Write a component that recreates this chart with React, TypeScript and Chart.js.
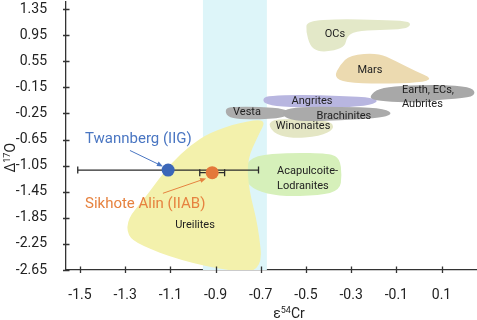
import React, { useEffect, useRef } from 'react';
import { Chart, registerables } from 'chart.js';

Chart.register(...registerables);

// ---- axes ----
const xTicks = [-1.5, -1.3, -1.1, -0.9, -0.7, -0.5, -0.3, -0.1, 0.1];
const xTickLabels = ['-1.5', '-1.3', '-1.1', '-0.9', '-0.7', '-0.5', '-0.3', '-0.1', '0.1'];
// y axis: evenly spaced tick positions (index 0..10) carrying these labels
const yTickLabels = ['-2.65', '-2.25', '-1.85', '-1.45', '-1.05', '-0.65', '-0.25', '-0.15', '0.55', '0.95', '1.35'];

// ---- meteorite points (x = ε54Cr, y = Δ17O axis position) ----
const twannberg = { x: -1.11, y: 3.83, err: 0.4 };
const sikhoteAlin = { x: -0.915, y: 3.73, err: 0.055 };

// ---- vertical band (ε54Cr range) ----
const bandRange = [-0.956, -0.673];

// ---- field outlines [ε54Cr, Δ17O axis position] ----
const ureilites: [number, number][] = [
  [-0.673, 5.8], [-0.792, 5.65], [-0.925, 5.27], [-1.013, 4.77], [-1.093, 4.12], [-1.155, 3.44],
  [-1.221, 2.67], [-1.288, 1.98], [-1.292, 1.34], [-1.235, 0.95], [-1.058, 0.38], [-0.836, -0.05],
  [-0.69, -0.05], [-0.712, 1.72], [-0.752, 3.05], [-0.761, 4.2], [-0.712, 5.15],
];
const acapulcoites: [number, number][] = [
  [-0.77, 4.01], [-0.726, 4.39], [-0.571, 4.5], [-0.394, 4.47], [-0.35, 4.27], [-0.341, 3.63],
  [-0.35, 3.05], [-0.438, 2.86], [-0.615, 2.82], [-0.726, 3.05], [-0.77, 3.44],
];
const winonaites: [number, number][] = [
  [-0.668, 5.73], [-0.571, 5.8], [-0.394, 5.73], [-0.372, 5.42], [-0.438, 5.11], [-0.571, 5.04], [-0.65, 5.27],
];
const ocs: [number, number][] = [
  [-0.496, 9.54], [-0.35, 9.62], [-0.173, 9.58], [-0.049, 9.54], [-0.035, 9.39], [-0.062, 9.24],
  [-0.173, 9.2], [-0.283, 9.16], [-0.319, 8.93], [-0.327, 8.59], [-0.372, 8.4], [-0.447, 8.36],
  [-0.482, 8.59], [-0.5, 9.16],
];
const mars: [number, number][] = [
  [-0.376, 7.4], [-0.35, 7.86], [-0.305, 8.24], [-0.181, 8.32], [-0.106, 8.02], [-0.018, 7.63],
  [0.062, 7.33], [0.004, 7.18], [-0.173, 7.14], [-0.327, 7.18],
];
const angrites: [number, number][] = [
  [-0.69, 6.6], [-0.659, 6.68], [-0.527, 6.72], [-0.35, 6.68], [-0.195, 6.6], [-0.181, 6.41],
  [-0.261, 6.26], [-0.438, 6.22], [-0.615, 6.26], [-0.686, 6.37],
];
const vesta: [number, number][] = [
  [-0.858, 6.18], [-0.827, 6.26], [-0.704, 6.26], [-0.593, 6.18], [-0.571, 5.99], [-0.615, 5.8],
  [-0.792, 5.76], [-0.85, 5.88],
];
const brachinites: [number, number][] = [
  [-0.606, 6.11], [-0.527, 6.26], [-0.35, 6.26], [-0.173, 6.22], [-0.115, 6.03], [-0.15, 5.84],
  [-0.35, 5.73], [-0.527, 5.69], [-0.597, 5.84],
];
const earth: [number, number][] = [
  [-0.217, 6.68], [-0.181, 6.95], [-0.084, 7.06], [0.093, 7.1], [0.226, 7.02], [0.252, 6.79],
  [0.226, 6.6], [0.093, 6.53], [0.004, 6.41], [-0.128, 6.45], [-0.208, 6.53],
];

// ---- field labels [text, x, y, align] ----
const fieldLabels: [string, number, number, CanvasTextAlign][] = [
  ['OCs', -0.372, 9.05, 'center'],
  ['Mars', -0.217, 7.67, 'center'],
  ['Earth, ECs,', -0.075, 6.87, 'left'],
  ['Aubrites', -0.075, 6.37, 'left'],
  ['Angrites', -0.473, 6.45, 'center'],
  ['Vesta', -0.761, 6.03, 'center'],
  ['Brachinites', -0.332, 5.88, 'center'],
  ['Winonaites', -0.513, 5.5, 'center'],
  ['Acapulcoite-', -0.628, 3.78, 'left'],
  ['Lodranites', -0.628, 3.21, 'left'],
  ['Ureilites', -0.991, 1.72, 'center'],
];

// ---- callouts ----
const twannbergLabel = { text: 'Twannberg (IIG)', x: -1.478, y: 5.0 };
const sikhoteLabel = { text: 'Sikhote Alin (IIAB)', x: -1.478, y: 2.52 };
const twannbergArrow = [[-1.279, 4.58], [-1.133, 3.97]];
const sikhoteArrow = [[-1.133, 2.94], [-0.942, 3.51]];

const BLUE = '#3b66b8';
const ORANGE = '#e4783a';
const BLUE_TEXT = '#4a76c2';
const ORANGE_TEXT = '#e6823f';

function smoothClosed(ctx: CanvasRenderingContext2D, pts: number[][]) {
  const n = pts.length;
  const mid = (a: number[], b: number[]) => [(a[0] + b[0]) / 2, (a[1] + b[1]) / 2];
  const m0 = mid(pts[n - 1], pts[0]);
  ctx.beginPath();
  ctx.moveTo(m0[0], m0[1]);
  for (let i = 0; i < n; i++) {
    const p = pts[i];
    const m = mid(p, pts[(i + 1) % n]);
    ctx.quadraticCurveTo(p[0], p[1], m[0], m[1]);
  }
  ctx.closePath();
}

const fields: [([number, number][]), string][] = [
  [acapulcoites, 'rgba(214,240,186,1)'],
  [ureilites, 'rgba(243,241,172,1)'],
  [winonaites, 'rgba(228,230,196,1)'],
  [ocs, 'rgba(227,232,200,1)'],
  [mars, 'rgba(236,218,176,1)'],
  [angrites, 'rgba(184,182,224,1)'],
  [vesta, 'rgba(172,172,172,1)'],
  [brachinites, 'rgba(170,170,170,1)'],
  [earth, 'rgba(168,168,168,1)'],
];

const drawPlugin = {
  id: 'custom',
  beforeDatasetsDraw(chart: any) {
    const { ctx, chartArea, scales } = chart;
    const xs = scales.x, ys = scales.y;
    ctx.save();
    // band
    const bx0 = xs.getPixelForValue(bandRange[0]);
    const bx1 = xs.getPixelForValue(bandRange[1]);
    ctx.fillStyle = '#ddf5f9';
    ctx.fillRect(bx0, 0, bx1 - bx0, chartArea.bottom);
    // fields
    ctx.beginPath();
    ctx.rect(chartArea.left, 0, chartArea.right - chartArea.left, chartArea.bottom);
    ctx.clip();
    for (const [pts, col] of fields) {
      const px = pts.map(([x, y]) => [xs.getPixelForValue(x), ys.getPixelForValue(y)]);
      smoothClosed(ctx, px);
      ctx.fillStyle = col;
      ctx.fill();
    }
    ctx.restore();
    // field labels
    ctx.save();
    ctx.font = '11px Roboto';
    ctx.fillStyle = '#222';
    ctx.textBaseline = 'middle';
    for (const [t, x, y, al] of fieldLabels) {
      ctx.textAlign = al;
      ctx.fillText(t, xs.getPixelForValue(x), ys.getPixelForValue(y));
    }
    // error bars
    ctx.strokeStyle = '#2a2a2a';
    ctx.lineWidth = 1.3;
    for (const p of [twannberg, sikhoteAlin]) {
      const x0 = xs.getPixelForValue(p.x - p.err);
      const x1 = xs.getPixelForValue(p.x + p.err);
      const y = ys.getPixelForValue(p.y);
      ctx.beginPath();
      ctx.moveTo(x0, y); ctx.lineTo(x1, y);
      ctx.moveTo(x0, y - 3.5); ctx.lineTo(x0, y + 3.5);
      ctx.moveTo(x1, y - 3.5); ctx.lineTo(x1, y + 3.5);
      ctx.stroke();
    }
    ctx.restore();
  },
  afterDatasetsDraw(chart: any) {
    const { ctx, scales } = chart;
    const xs = scales.x, ys = scales.y;
    ctx.save();
    ctx.font = '15px Roboto';
    ctx.textAlign = 'left';
    ctx.textBaseline = 'middle';
    ctx.fillStyle = BLUE_TEXT;
    ctx.fillText(twannbergLabel.text, xs.getPixelForValue(twannbergLabel.x), ys.getPixelForValue(twannbergLabel.y));
    ctx.fillStyle = ORANGE_TEXT;
    ctx.fillText(sikhoteLabel.text, xs.getPixelForValue(sikhoteLabel.x), ys.getPixelForValue(sikhoteLabel.y));
    const arrow = (a: number[][], col: string) => {
      const x0 = xs.getPixelForValue(a[0][0]), y0 = ys.getPixelForValue(a[0][1]);
      const x1 = xs.getPixelForValue(a[1][0]), y1 = ys.getPixelForValue(a[1][1]);
      const ang = Math.atan2(y1 - y0, x1 - x0);
      ctx.strokeStyle = col; ctx.fillStyle = col; ctx.lineWidth = 1;
      ctx.beginPath(); ctx.moveTo(x0, y0); ctx.lineTo(x1 - 4 * Math.cos(ang), y1 - 4 * Math.sin(ang)); ctx.stroke();
      ctx.beginPath();
      ctx.moveTo(x1, y1);
      ctx.lineTo(x1 - 6 * Math.cos(ang) + 2.5 * Math.sin(ang), y1 - 6 * Math.sin(ang) - 2.5 * Math.cos(ang));
      ctx.lineTo(x1 - 6 * Math.cos(ang) - 2.5 * Math.sin(ang), y1 - 6 * Math.sin(ang) + 2.5 * Math.cos(ang));
      ctx.closePath(); ctx.fill();
    };
    arrow(twannbergArrow, BLUE_TEXT);
    arrow(sikhoteArrow, ORANGE_TEXT);
    ctx.restore();
  },
  afterDraw(chart: any) {
    const { ctx, chartArea, scales } = chart;
    const xs = scales.x, ys = scales.y;
    ctx.save();
    ctx.strokeStyle = '#333';
    ctx.lineWidth = 1.3;
    ctx.beginPath();
    for (const v of xTicks) {
      const x = Math.round(xs.getPixelForValue(v)) + 0.5;
      ctx.moveTo(x, chartArea.bottom - 3.5); ctx.lineTo(x, chartArea.bottom + 3);
    }
    for (let i = 0; i < yTickLabels.length; i++) {
      const y = Math.round(ys.getPixelForValue(i)) + 0.5;
      ctx.moveTo(chartArea.left - 3, y); ctx.lineTo(chartArea.left + 3.5, y);
    }
    ctx.stroke();
    // axis titles
    ctx.fillStyle = '#222';
    ctx.textBaseline = 'alphabetic';
    const drawSup = (parts: [string, number, number][], cx: number, cy: number) => {
      let w = 0;
      for (const [t, s] of parts) { ctx.font = `${s}px Roboto`; w += ctx.measureText(t).width; }
      let x = cx - w / 2;
      for (const [t, s, dy] of parts) {
        ctx.font = `${s}px Roboto`;
        ctx.textAlign = 'left';
        ctx.fillText(t, x, cy + dy);
        x += ctx.measureText(t).width;
      }
    };
    drawSup([['ε', 14, 0], ['54', 9, -5], ['Cr', 14, 0]], xs.getPixelForValue(-0.575), 318);
    ctx.translate(15, ys.getPixelForValue(4.3));
    ctx.rotate(-Math.PI / 2);
    drawSup([['Δ', 14, 0], ['17', 9, -5], ['O', 14, 0]], 0, 0);
    ctx.restore();
  },
};

export default function App() {
  const ref = useRef<HTMLCanvasElement>(null);
  useEffect(() => {
    if (!ref.current) return;
    const chart = new Chart(ref.current, {
      type: 'scatter',
      data: {
        datasets: [
          { data: [{ x: twannberg.x, y: twannberg.y }], backgroundColor: BLUE, borderWidth: 0, pointRadius: 6.5 },
          { data: [{ x: sikhoteAlin.x, y: sikhoteAlin.y }], backgroundColor: ORANGE, borderWidth: 0, pointRadius: 6.5 },
        ],
      },
      options: {
        animation: false,
        responsive: false,
        devicePixelRatio: 1,
        layout: { autoPadding: false, padding: { top: 2, left: 0, right: 0, bottom: 0 } },
        plugins: { legend: { display: false }, tooltip: { enabled: false } },
        scales: {
          x: {
            type: 'linear', min: -1.562, max: 0.257,
            afterBuildTicks: (s: any) => { s.ticks = xTicks.map((v) => ({ value: v })); },
            afterFit: (s: any) => { s.height = 50; s.paddingLeft = 0; s.paddingRight = 0; },
            grid: { display: false },
            border: { display: true, color: '#333', width: 1.3 },
            ticks: {
              callback: (v: any) => { const i = xTicks.findIndex((t) => Math.abs(t - v) < 1e-6); return i >= 0 ? xTickLabels[i] : ''; },
              font: { family: 'Roboto', size: 14 }, color: '#222', padding: 9, maxRotation: 0, autoSkip: false,
            },
          },
          y: {
            type: 'linear', min: 0, max: 10.27,
            afterBuildTicks: (s: any) => { s.ticks = yTickLabels.map((_, i) => ({ value: i })); },
            afterFit: (s: any) => { s.width = 66; s.paddingTop = 0; s.paddingBottom = 0; },
            grid: { display: false },
            border: { display: true, color: '#333', width: 1.3 },
            ticks: {
              callback: (v: any) => yTickLabels[Math.round(v)] ?? '',
              font: { family: 'Roboto', size: 14 }, color: '#222', padding: 11, autoSkip: false,
            },
          },
        },
      },
      plugins: [drawPlugin],
    } as any);
    return () => chart.destroy();
  }, []);
  return (
    <div style={{ position: 'fixed', left: 0, top: 0, width: 477, height: 320, background: '#fff' }}>
      <canvas ref={ref} width={477} height={320} style={{ width: 477, height: 320, display: 'block' }} />
    </div>
  );
}
